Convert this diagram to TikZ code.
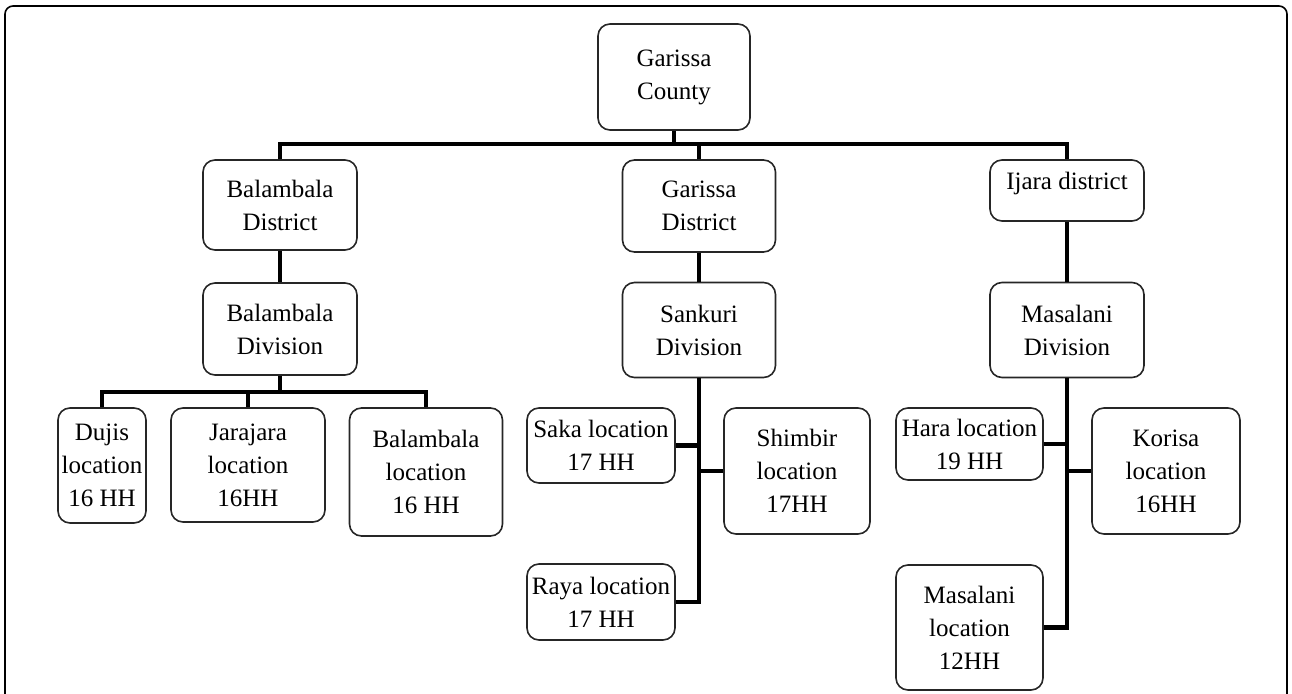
\documentclass[tikz,border=0pt]{standalone}
\usepackage{fontspec}
\setmainfont{Liberation Serif}
\usetikzlibrary{positioning, calc}

\tikzset{
    unit/.style={draw=black!85, line width=0.8pt, rounded corners=6pt,
        align=center, inner sep=0pt, font=\fontsize{12.5}{16.5}\selectfont},
    link/.style={line width=2.4pt},
}

\begin{document}
\begin{tikzpicture}[x=0.5pt, y=-0.5pt]
\useasboundingbox (0,0) rectangle (1292,694);

% outer frame, open at the bottom
\draw[line width=0.8pt, rounded corners=4pt] (5,720) -- (5,6) -- (1287,6) -- (1287,720);

\foreach \n/\x/\y/\w/\h/\t in {
    county/674/77/76/53/{Garissa\\County},
    baldist/280/205/77/45/{Balambala\\District},
    gardist/699/206/76.5/46/{Garissa\\District},
    baldiv/280/329/77/46/{Balambala\\Division},
    sandiv/699/330/76.5/47.5/{Sankuri\\Division},
    masdiv/1067/330/77/47.5/{Masalani\\Division},
    dujis/102/465.5/44/57.5/{Dujis\\location\\16 HH},
    jarajara/248/465/77/57/{Jarajara\\location\\16HH},
    balloc/426/472/76.5/64/{Balambala\\location\\16 HH},
    saka/601/445.5/74/37.5/{Saka location\\17 HH},
    raya/601/602/74/38/{Raya location\\17 HH},
    shimbir/797/471/73/63/{Shimbir\\location\\17HH},
    hara/969.5/444/73.5/36/{Hara location\\19 HH},
    korisa/1166/471/74/63/{Korisa\\location\\16HH},
    masloc/969.5/627.5/73.5/62.5/{Masalani\\location\\12HH}}
    \node[unit, minimum width=\w pt, minimum height=\h pt] (\n) at (\x,\y) {\t};

% text sits high in this one
\node[unit, minimum width=77pt, minimum height=30.5pt, text depth=10pt] (ijara) at (1067,190.5) {Ijara district};

% county level
\coordinate (bus) at (674,144);
\draw[link] (county.south) -- (bus);
\draw[link] (baldist.north) |- (bus) -| (ijara.north);
\draw[link] (gardist.north) -- (gardist.north |- bus);

% districts to divisions
\draw[link] (baldist) -- (baldiv);
\draw[link] (gardist) -- (sandiv);
\draw[link] (ijara) -- (masdiv);

% Balambala locations
\coordinate (bus2) at (280,392);
\draw[link] (baldiv.south) -- (bus2);
\draw[link] (dujis.north) |- (bus2) -| (balloc.north);
\draw[link] (jarajara.north) -- (jarajara.north |- bus2);

% Sankuri locations
\draw[link] (sandiv.south) |- (raya.east);
\draw[link] (saka.east) -- (saka.east -| sandiv.south);
\draw[link] (shimbir.west) -- (shimbir.west -| sandiv.south);

% Masalani locations
\draw[link] (masdiv.south) |- (masloc.east);
\draw[link] (hara.east) -- (hara.east -| masdiv.south);
\draw[link] (korisa.west) -- (korisa.west -| masdiv.south);

\end{tikzpicture}
\end{document}
